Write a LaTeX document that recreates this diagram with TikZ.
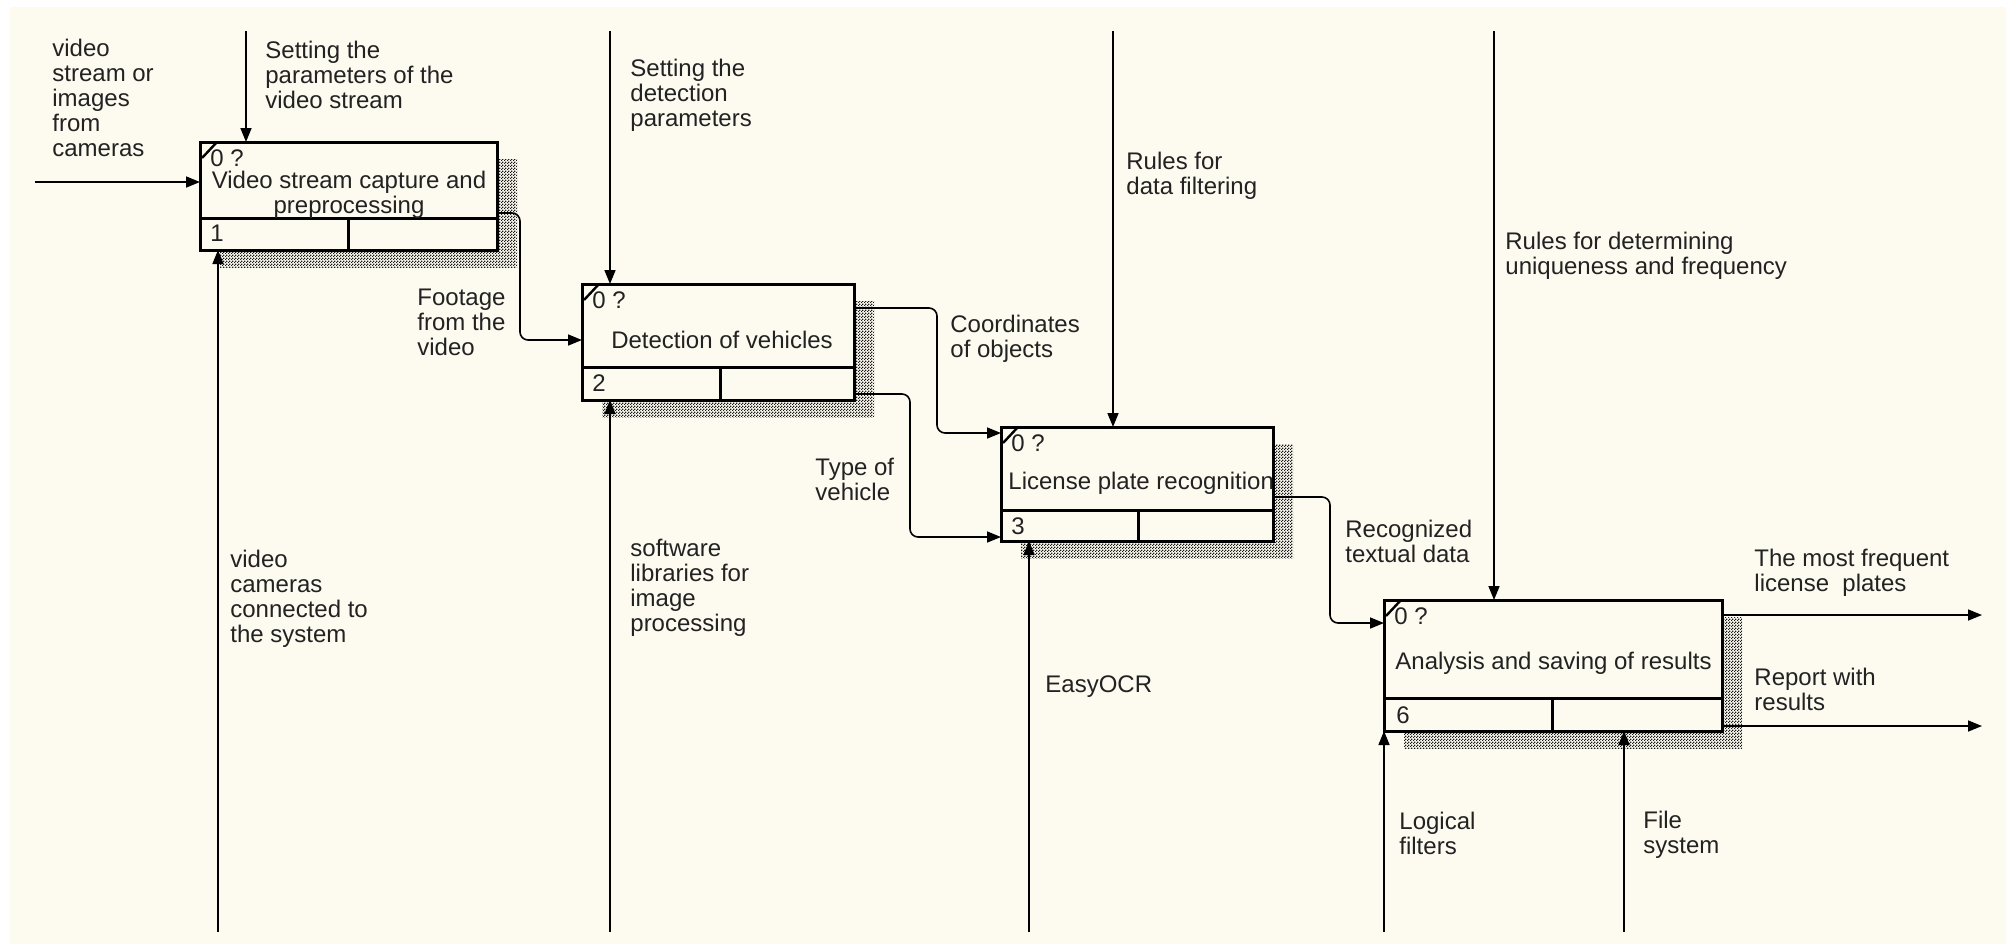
\documentclass[tikz,border=0pt]{standalone}
\usepackage{fontspec}
\setmainfont{Liberation Sans}
\usetikzlibrary{arrows.meta,calc,patterns}
\definecolor{cream}{HTML}{FDFAF0}
\definecolor{ink}{HTML}{222222}
\pgfdeclarepatternformonly{finecheck}{\pgfpointorigin}{\pgfqpoint{1.5pt}{1.5pt}}{\pgfqpoint{1.5pt}{1.5pt}}{%
  \pgfpathrectangle{\pgfpointorigin}{\pgfqpoint{0.75pt}{0.75pt}}%
  \pgfpathrectangle{\pgfqpoint{0.75pt}{0.75pt}}{\pgfqpoint{0.75pt}{0.75pt}}%
  \pgfusepath{fill}}
\tikzset{
  x=0.5pt, y=-0.5pt,
  boxnode/.style={draw, fill=cream, line width=1.5pt, inner sep=0pt, outer sep=0pt, anchor=north west},
  shadowfill/.style={pattern=finecheck, pattern color=black!90},
  arr/.style={line width=0.8pt, -{Triangle[length=7pt,width=5.5pt]}},
  rc/.style={rounded corners=4pt},
  lbl/.style={font=\fontsize{12}{12.5}\selectfont, text=ink, align=left, inner sep=0pt, anchor=west},
  btxt/.style={font=\fontsize{12}{12.5}\selectfont, text=ink, inner sep=0pt},
  thin/.style={line width=1.5pt}
}
\begin{document}
\begin{tikzpicture}
\useasboundingbox (0,0) rectangle (2013,950);
\fill[white] (0,0) rectangle (2013,950);
\fill[cream] (10,7) rectangle (2006,944);

% shadows
\fill[shadowfill] (220,159) rectangle (517,267);
\fill[shadowfill] (602,301) rectangle (874,417);
\fill[shadowfill] (1021,444) rectangle (1293,558);
\fill[shadowfill] (1404,617) rectangle (1742,748);

% boxes
\node[boxnode, minimum width=148.5pt, minimum height=54pt] (b1) at (200,142) {};
\node[boxnode, minimum width=136pt, minimum height=58pt] (b2) at (582,284) {};
\node[boxnode, minimum width=136pt, minimum height=57pt] (b3) at (1001,427) {};
\node[boxnode, minimum width=169pt, minimum height=65.5pt] (b4) at (1384,600) {};

% box internals
\draw[thin] ($(b1.north west)+(0,76)$) -- ($(b1.north east)+(0,76)$);
\draw[thin] ($(b1.south west)+(148,0)$) -- ($(b1.north west)+(148,76)$);
\draw[thin] ($(b2.north west)+(0,83)$) -- ($(b2.north east)+(0,83)$);
\draw[thin] ($(b2.south west)+(138,0)$) -- ($(b2.north west)+(138,83)$);
\draw[thin] ($(b3.north west)+(0,83)$) -- ($(b3.north east)+(0,83)$);
\draw[thin] ($(b3.south west)+(137,0)$) -- ($(b3.north west)+(137,83)$);
\draw[thin] ($(b4.north west)+(0,98)$) -- ($(b4.north east)+(0,98)$);
\draw[thin] ($(b4.south west)+(168,0)$) -- ($(b4.north west)+(168,98)$);

\foreach \b in {b1,b2,b3,b4}{
  \draw[line width=1.2pt] ($(\b.north west)+(2,16)$) -- ($(\b.north west)+(17,0)$);
  \node[btxt, anchor=west] at ($(\b.north west)+(10,16)$) {0 ?};
}
\node[btxt, anchor=west] (n1) at ($(b1.south west)+(10,-17)$) {1};
\node[btxt, anchor=west] (n2) at ($(b2.south west)+(10,-17)$) {2};
\node[btxt, anchor=west] (n3) at ($(b3.south west)+(10,-15)$) {3};
\node[btxt, anchor=west] (n6) at ($(b4.south west)+(12,-16)$) {6};

% titles
\node[btxt, align=center] (t1) at (349,195) {Video stream capture and\\preprocessing};
\node[btxt] (t2) at (722,340) {Detection of vehicles};
\begin{scope}
\clip (b3.north west) rectangle ($(b3.north east)+(0,83)$);
\node[btxt, anchor=west] (t3) at (1008,483) {License plate recognition};
\end{scope}
\node[btxt, anchor=west] (t4) at (1395,663) {Analysis and saving of results};

% free ends
\coordinate (i1) at (35,182);
\coordinate (c1) at (246,31);
\coordinate (m1) at (218,932);
\coordinate (c2) at (610,31);
\coordinate (m2) at (610,932);
\coordinate (c3) at (1113,31);
\coordinate (m3) at (1029,932);
\coordinate (c4) at (1494,31);
\coordinate (m4a) at (1384,932);
\coordinate (m4b) at (1624,932);
\coordinate (o4a) at (1982,615);
\coordinate (o4b) at (1982,726);

% connectors
\draw[arr] (i1) -- (i1 -| b1.west);
\draw[arr] (c1) -- (c1 |- b1.north);
\draw[arr] (m1) -- (m1 |- b1.south);
\draw[arr] (c2) -- (c2 |- b2.north);
\draw[arr] (m2) -- (m2 |- b2.south);
\draw[arr] (c3) -- (c3 |- b3.north);
\draw[arr] (m3) -- (m3 |- b3.south);
\draw[arr] (c4) -- (c4 |- b4.north);
\draw[arr] (m4a) -- (m4a |- b4.south);
\draw[arr] (m4b) -- (m4b |- b4.south);

\draw[arr, rc] ($(b1.north east)+(0,71)$) -- ++(23,0) |- ($(b2.north west)+(0,56)$);
\draw[arr, rc] ($(b2.north east)+(0,24)$) -- ++(83,0) |- ($(b3.north west)+(0,6)$);
\draw[arr, rc] ($(b2.north east)+(0,110)$) -- ++(56,0) |- ($(b3.north west)+(0,110)$);
\draw[arr, rc] ($(b3.north east)+(0,70)$) -- ++(57,0) |- ($(b4.north west)+(0,23)$);
\draw[arr] ($(b4.north east)+(0,15)$) -- (o4a);
\draw[arr] ($(b4.north east)+(0,126)$) -- (o4b);

% labels
\node[lbl] (l1) at (52,98) {video\\stream or\\images\\from\\cameras};
\node[lbl] (l2) at (265,75) {Setting the\\parameters of the\\video stream};
\node[lbl] (l3) at (630,95) {Setting the\\detection\\parameters};
\node[lbl] (l4) at (1126,176) {Rules for\\data filtering};
\node[lbl] (l5) at (1505,256) {Rules for determining\\uniqueness and frequency};
\node[lbl] (l6) at (417,322) {Footage\\from the\\video};
\node[lbl] (l7) at (950,339) {Coordinates\\of objects};
\node[lbl] (l8) at (815,479) {Type of\\vehicle};
\node[lbl] (l9) at (1345,541) {Recognized\\textual data};
\node[lbl] (l10) at (1754,573) {The most frequent\\license\ \ plates};
\node[lbl] (l11) at (1754,689) {Report with\\results};
\node[lbl] (l12) at (230,599) {video\\cameras\\connected to\\the system};
\node[lbl] (l13) at (630,588) {software\\libraries for\\image\\processing};
\node[lbl] (l14) at (1045,687) {EasyOCR};
\node[lbl] (l15) at (1399,833) {Logical\\filters};
\node[lbl] (l16) at (1643,835) {File\\system};
\end{tikzpicture}
\end{document}
